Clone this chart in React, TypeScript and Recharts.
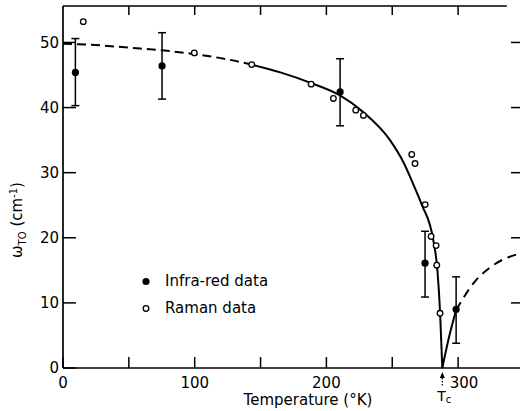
import React from 'react';
import { ComposedChart, Line, Scatter, XAxis, YAxis, ErrorBar, ReferenceLine, Legend } from 'recharts';

const xTicks = [0, 50, 100, 150, 200, 250, 300];
const xTickLabels = ['0', '', '100', '', '200', '', '300'];
const yTicks = [0, 10, 20, 30, 40, 50];
const yRightTicks = [10, 20, 30, 40, 50];
const topTicks = [50, 100, 150, 200, 250, 300];
const legendNames = ['Infra-red data', 'Raman data'];
const tcValue = 288;

// Infra-red data (filled) with error bars
const irT = [9.4, 75.2, 210.4, 274.9, 298.5];
const irW = [45.4, 46.4, 42.4, 16.1, 9.0];
const irLow = [40.3, 41.3, 37.2, 10.9, 3.8];
const irHigh = [50.6, 51.5, 47.5, 21.0, 14.0];

// Raman data (open)
const ramanT = [15.4, 99.7, 143.3, 188.4, 205.3, 222.3, 228.1, 264.8, 267.3, 275, 279.5, 283.3, 283.8, 286.3];
const ramanW = [53.2, 48.4, 46.6, 43.6, 41.4, 39.6, 38.8, 32.8, 31.4, 25.1, 20.2, 18.8, 15.8, 8.4];

// theoretical curve
const dashLeftT = [0, 25, 50, 75, 100, 125, 143.3];
const dashLeftW = [49.8, 49.6, 49.2, 48.8, 48.2, 47.4, 46.6];
const solidT = [143.3, 165, 188, 210, 228, 248.3, 258.5, 266, 272.4, 281.2, 284.3, 286.3, 288];
const solidW = [46.6, 45.4, 43.8, 41.9, 39.3, 35.0, 31.6, 28.2, 25.1, 19.6, 15.0, 8.6, 0];
const solidRightT = [288, 292.6, 298.5];
const solidRightW = [0, 4.3, 8.9];
const dashRightT = [298.5, 311.6, 326.8, 347];
const dashRightW = [8.9, 13.0, 15.8, 17.6];

const X_MAX = 347;
const Y_MAX = 55.6;
const TOP_LINE_END = 337;

const mk = (ts: number[], ws: number[]) => ts.map((t, i) => ({ t, w: ws[i] }));
const irData = irT.map((t, i) => ({ t, w: irW[i], err: [irW[i] - irLow[i], irHigh[i] - irW[i]] }));
const ramanData = mk(ramanT, ramanW);

const FONT = '"DejaVu Sans", sans-serif';

const FilledDot = (p: any) => <circle cx={p.cx} cy={p.cy} r={3.6} fill="#000" />;
const OpenDot = (p: any) => (
  <circle cx={p.cx} cy={p.cy} r={2.8} fill="#fff" stroke="#000" strokeWidth={1.3} />
);
const EmptyTick = () => <g />;

const BottomTick = (p: any) => {
  const v = p.payload.value;
  const label = xTickLabels[xTicks.indexOf(v)] ?? '';
  return (
    <text x={p.x + (v === 300 ? 6 : 0)} y={p.y} dy="0.71em" textAnchor="middle" fontFamily={FONT} fontSize={15} fill="#000">
      {label}
    </text>
  );
};

const LegendContent = () => (
  <div style={{ fontFamily: FONT, fontSize: 15, color: '#000' }}>
    <div style={{ display: 'flex', alignItems: 'center', height: 27 }}>
      <svg width={27} height={27}>
        <circle cx={8} cy={13.5} r={3.6} fill="#000" />
      </svg>
      <span>{legendNames[0]}</span>
    </div>
    <div style={{ display: 'flex', alignItems: 'center', height: 27 }}>
      <svg width={27} height={27}>
        <circle cx={8} cy={13.5} r={2.8} fill="#fff" stroke="#000" strokeWidth={1.3} />
      </svg>
      <span>{legendNames[1]}</span>
    </div>
  </div>
);

const TcMarker = (p: any) => {
  const { x, y, height } = p.viewBox;
  const by = y + height;
  return (
    <g>
      <polygon points={`${x},${by + 4} ${x - 2.5},${by + 10} ${x + 2.5},${by + 10}`} fill="#000" />
      <line x1={x} y1={by + 10} x2={x} y2={by + 18} stroke="#000" strokeWidth={1.2} strokeDasharray="1.5 1.5" />
      <text x={x - 5} y={by + 33} textAnchor="start" fontFamily={FONT} fontSize={14} fill="#000">
        T<tspan fontSize={10} dy={2}>c</tspan>
      </text>
    </g>
  );
};

const YLabel = () => (
  <text transform="translate(22,220) rotate(-90)" textAnchor="middle" fontFamily={FONT} fontSize={15} fill="#000">
    ω<tspan fontSize={10} dy={4}>TO</tspan>
    <tspan dy={-4}> (cm</tspan>
    <tspan fontSize={10} dy={-5}>-1</tspan>
    <tspan dy={5}>)</tspan>
  </text>
);

const XLabel = () => (
  <text x={308} y={405} textAnchor="middle" fontFamily={FONT} fontSize={15} fill="#000">
    Temperature (°K)
  </text>
);

export default function App() {
  return (
    <div style={{ position: 'absolute', left: 0, top: 0, width: 521, height: 411, background: '#fff' }}>
      <ComposedChart width={521} height={411} margin={{ top: 5, right: 0, bottom: 0, left: 0 }}>
        <XAxis
          xAxisId="b"
          dataKey="t"
          type="number"
          domain={[0, X_MAX]}
          ticks={xTicks}
          interval={0}
          orientation="bottom"
          height={43}
          tickSize={-11}
          tickMargin={20}
          tick={<BottomTick />}
          axisLine={{ stroke: '#000', strokeWidth: 1.7 }}
          tickLine={{ stroke: '#000', strokeWidth: 1.5 }}
          label={{ content: () => <XLabel /> }}
          allowDataOverflow
        />
        <XAxis
          xAxisId="t"
          dataKey="t"
          type="number"
          domain={[0, X_MAX]}
          ticks={topTicks}
          interval={0}
          orientation="top"
          height={1}
          tickSize={-9}
          tick={<EmptyTick />}
          axisLine={false}
          tickLine={{ stroke: '#000', strokeWidth: 1.5 }}
          allowDataOverflow
        />
        <YAxis
          yAxisId="l"
          dataKey="w"
          type="number"
          domain={[0, Y_MAX]}
          ticks={yTicks}
          interval={0}
          orientation="left"
          width={63}
          tickSize={-13}
          tickMargin={17}
          tick={{ fontFamily: FONT, fontSize: 15, fill: '#000' }}
          axisLine={{ stroke: '#000', strokeWidth: 1.7 }}
          tickLine={{ stroke: '#000', strokeWidth: 1.5 }}
          label={{ content: () => <YLabel /> }}
          allowDataOverflow
        />
        <YAxis
          yAxisId="r"
          dataKey="w"
          type="number"
          domain={[0, Y_MAX]}
          ticks={yRightTicks}
          interval={0}
          orientation="right"
          width={1}
          tickSize={-9}
          tick={<EmptyTick />}
          axisLine={false}
          tickLine={{ stroke: '#000', strokeWidth: 1.5 }}
          allowDataOverflow
        />
        <ReferenceLine
          xAxisId="b"
          yAxisId="l"
          segment={[{ x: 0, y: Y_MAX }, { x: TOP_LINE_END, y: Y_MAX }]}
          stroke="#000"
          strokeWidth={1.7}
          ifOverflow="visible"
        />
        <ReferenceLine xAxisId="b" yAxisId="l" x={tcValue} stroke="none" label={{ content: (p: any) => <TcMarker {...p} /> }} />
        <Line xAxisId="b" yAxisId="l" data={mk(dashLeftT, dashLeftW)} dataKey="w" type="monotone" stroke="#000" strokeWidth={2} strokeDasharray="9 5" dot={false} activeDot={false} isAnimationActive={false} legendType="none" />
        <Line xAxisId="b" yAxisId="l" data={mk(solidT, solidW)} dataKey="w" type="monotone" stroke="#000" strokeWidth={2} dot={false} activeDot={false} isAnimationActive={false} legendType="none" />
        <Line xAxisId="b" yAxisId="l" data={mk(solidRightT, solidRightW)} dataKey="w" type="monotone" stroke="#000" strokeWidth={2} dot={false} activeDot={false} isAnimationActive={false} legendType="none" />
        <Line xAxisId="b" yAxisId="l" data={mk(dashRightT, dashRightW)} dataKey="w" type="monotone" stroke="#000" strokeWidth={2} strokeDasharray="9 6" dot={false} activeDot={false} isAnimationActive={false} legendType="none" />
        <Scatter xAxisId="b" yAxisId="l" name={legendNames[0]} data={irData} dataKey="w" shape={FilledDot} isAnimationActive={false}>
          <ErrorBar dataKey="err" direction="y" width={4} stroke="#000" strokeWidth={1.5} isAnimationActive={false} />
        </Scatter>
        <Scatter xAxisId="b" yAxisId="l" name={legendNames[1]} data={ramanData} dataKey="w" shape={OpenDot} isAnimationActive={false} />
        <Legend
          layout="horizontal"
          verticalAlign="middle"
          align="center"
          content={() => <LegendContent />}
          wrapperStyle={{ position: 'absolute', left: 138, top: 267.5, width: 'auto', height: 'auto' }}
        />
      </ComposedChart>
    </div>
  );
}
